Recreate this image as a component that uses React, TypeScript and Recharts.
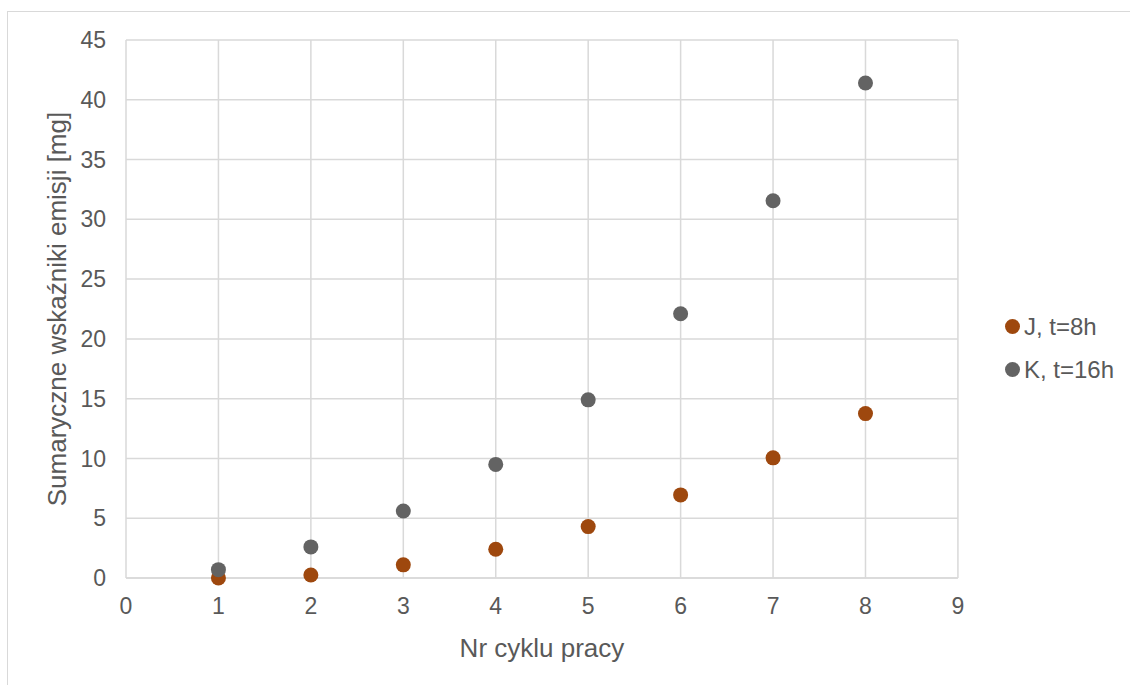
import { ScatterChart, Scatter, XAxis, YAxis, CartesianGrid, Legend } from 'recharts';

const cycles = [1, 2, 3, 4, 5, 6, 7, 8];
const seriesJ = [0.0, 0.25, 1.1, 2.4, 4.3, 6.95, 10.05, 13.75];
const seriesK = [0.7, 2.6, 5.6, 9.5, 14.9, 22.1, 31.55, 41.4];
const xTicks = [0, 1, 2, 3, 4, 5, 6, 7, 8, 9];
const yTicks = [0, 5, 10, 15, 20, 25, 30, 35, 40, 45];

const colorJ = '#9E480E';
const colorK = '#636363';
const font = '"Liberation Sans", Arial, sans-serif';

const dataJ = cycles.map((c, i) => ({ x: c, y: seriesJ[i] }));
const dataK = cycles.map((c, i) => ({ x: c, y: seriesK[i] }));

const dot = (color: string) => (props: any) => (
  <circle cx={props.cx} cy={props.cy} r={7.5} fill={color} />
);

const renderLegend = () => (
  <div style={{ fontFamily: font, fontSize: 24, color: '#595959' }}>
    {[
      { name: 'J, t=8h', color: colorJ },
      { name: 'K, t=16h', color: colorK },
    ].map((item) => (
      <div key={item.name} style={{ display: 'flex', alignItems: 'center', height: 43 }}>
        <span
          style={{
            display: 'inline-block',
            width: 15,
            height: 15,
            borderRadius: 8,
            background: item.color,
            marginRight: 4,
          }}
        />
        {item.name}
      </div>
    ))}
  </div>
);

export default function App() {
  return (
    <div style={{ position: 'absolute', left: 0, top: 0, width: 1130, height: 685, background: '#fff', overflow: 'hidden' }}>
      <div
        style={{
          position: 'absolute',
          left: 7,
          top: 11,
          width: 1140,
          height: 700,
          border: '1px solid #D9D9D9',
        }}
      />
      <ScatterChart
        width={1130}
        height={685}
        margin={{ top: 40, right: 63, bottom: 28, left: 0 }}
        style={{ position: 'absolute', left: 0, top: 0, fontFamily: font }}
      >
        <CartesianGrid stroke="#D9D9D9" strokeWidth={1.5} />
        <XAxis
          type="number"
          dataKey="x"
          domain={[0, 9]}
          ticks={xTicks}
          height={79}
          axisLine={{ stroke: '#D9D9D9', strokeWidth: 1.5 }}
          tickLine={false}
          tick={{ fill: '#595959', fontSize: 23 }}
          tickMargin={14}
          label={{ value: 'Nr cyklu pracy', position: 'insideBottom', offset: 0, fill: '#595959', fontSize: 26 }}
        />
        <YAxis
          type="number"
          dataKey="y"
          domain={[0, 45]}
          ticks={yTicks}
          width={126}
          axisLine={false}
          tickLine={false}
          tick={{ fill: '#595959', fontSize: 23 }}
          tickMargin={14}
          label={{
            value: 'Sumaryczne wskaźniki emisji [mg]',
            angle: -90,
            position: 'insideLeft',
            offset: 57,
            style: { textAnchor: 'middle' },
            fill: '#595959',
            fontSize: 26,
          }}
        />
        <Legend
          layout="vertical"
          align="right"
          verticalAlign="middle"
          content={renderLegend}
          wrapperStyle={{ right: 16, top: 305 }}
        />
        <Scatter name="J, t=8h" data={dataJ} fill={colorJ} shape={dot(colorJ)} isAnimationActive={false} />
        <Scatter name="K, t=16h" data={dataK} fill={colorK} shape={dot(colorK)} isAnimationActive={false} />
      </ScatterChart>
    </div>
  );
}
